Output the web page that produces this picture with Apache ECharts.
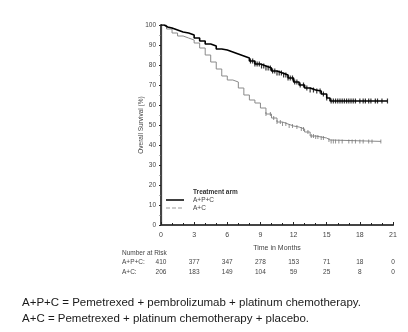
<!DOCTYPE html>
<html>
<head>
<meta charset="utf-8">
<script src="https://cdn.jsdelivr.net/npm/echarts@6/dist/echarts.min.js"></script>
<style>
html,body{margin:0;padding:0;background:#fff;}
#c{width:408px;height:332px;}
</style>
</head>
<body>
<div id="c"></div>
<script>
// ---- Data ----
var xTicks = [0, 3, 6, 9, 12, 15, 18, 21];
var yTicks = [0, 10, 20, 30, 40, 50, 60, 70, 80, 90, 100];

// A+P+C Kaplan-Meier steps: [months, survival %]
var apcTimes = [0, 0.3, 0.6, 1, 1.5, 2, 2.5, 3, 3.5, 4, 4.5, 5, 5.5, 6, 6.5, 7, 7.5, 8, 8.5, 9, 9.5, 10, 10.5, 11, 11.5, 12, 12.5, 13, 13.5, 14, 14.5, 15, 15.3, 20.5];
var apcSurv  = [100, 99, 98.5, 97.5, 96.5, 96, 95, 93.5, 92, 90.5, 89.5, 88, 87.5, 86.5, 85.5, 84.5, 83.5, 82, 80.5, 79.5, 78.5, 77, 76, 75, 73.5, 71.5, 70, 68.5, 67.5, 67, 65.5, 63.5, 62, 62];
var apcCensor = [8.1, 8.3, 8.5, 8.7, 8.9, 9.1, 9.3, 9.5, 9.7, 9.9, 10.1, 10.3, 10.5, 10.7, 10.9, 11.1, 11.3, 11.5, 11.7, 11.9, 12.1, 12.3, 12.6, 12.9, 13.2, 13.5, 13.8, 14.1, 14.4, 14.7, 15.0, 15.4, 15.6, 15.8, 16.0, 16.2, 16.4, 16.6, 16.8, 17.0, 17.2, 17.4, 17.6, 18.0, 18.3, 18.5, 18.8, 19.0, 19.4, 19.6, 20.0, 20.5];

// A+C Kaplan-Meier steps
var acTimes = [0, 0.5, 1, 1.5, 2, 2.5, 3, 3.5, 4, 4.5, 5, 5.5, 6, 6.5, 7, 7.5, 8, 8.5, 9, 9.5, 10, 10.5, 11, 11.5, 12, 12.5, 13, 13.5, 14, 14.5, 15, 15.3, 19.9];
var acSurv  = [100, 98, 96, 94.5, 93.5, 92.5, 91, 88.5, 85, 81.5, 78, 74.5, 72.5, 71.5, 68.5, 65, 62.5, 61, 58.5, 55.5, 53.5, 51.5, 50.5, 49.5, 49, 48, 46.5, 44.5, 44, 43.5, 42.5, 41.8, 41.8];
var acCensor = [9.5, 9.9, 10.2, 10.5, 10.8, 11.0, 11.3, 11.6, 11.9, 12.3, 12.7, 12.9, 13.3, 13.6, 13.8, 14.0, 14.2, 14.5, 14.7, 15.2, 15.4, 15.6, 15.8, 16.1, 16.4, 17.0, 17.3, 17.6, 18.0, 18.3, 18.8, 19.1, 19.9];

var riskAPC = [410, 377, 347, 278, 153, 71, 18, 0];
var riskAC  = [206, 183, 149, 104, 59, 25, 8, 0];

var armNames = ['A+P+C', 'A+C'];
var footnotes = [
  'A+P+C = Pemetrexed + pembrolizumab + platinum chemotherapy.',
  'A+C = Pemetrexed + platinum chemotherapy + placebo.'
];

// ---- Build series ----
function pairs(t, s) { return t.map(function (v, i) { return [v, s[i]]; }); }
function survAt(t, s, x) {
  var v = s[0];
  for (var i = 0; i < t.length; i++) { if (t[i] <= x) v = s[i]; }
  return v;
}
function censorPts(ct, t, s) { return ct.map(function (x) { return [x, survAt(t, s, x)]; }); }

var FONT = 'Liberation Sans';
var TXT = '#444';

var chart = echarts.init(document.getElementById('c'), null, { renderer: 'canvas' });
var option = {
  animation: false,
  backgroundColor: '#fff',
  textStyle: { fontFamily: FONT },
  grid: { left: 161, right: 15, top: 25, bottom: 107 },
  xAxis: [{
    type: 'value', min: 0, max: 21, interval: 3,
    axisLine: { show: true, lineStyle: { color: '#222', width: 1.2 } },
    axisTick: { show: true, inside: true, length: 3, lineStyle: { color: '#222' } },
    minorTick: { show: true, splitNumber: 3, length: 2, lineStyle: { color: '#222' } },
    splitLine: { show: false },
    axisLabel: { fontSize: 7, color: TXT, margin: 7, fontFamily: FONT },
    name: 'Time in Months', nameLocation: 'middle', nameGap: 20,
    nameTextStyle: { fontSize: 7, color: TXT, fontFamily: FONT }
  }, {
    type: 'value', min: 0, max: 21, position: 'top',
    axisLine: { show: true, lineStyle: { color: '#444', width: 2 } },
    axisTick: { show: false }, axisLabel: { show: false }, splitLine: { show: false }
  }],
  yAxis: [{
    type: 'value', min: 0, max: 100, interval: 10,
    axisLine: { show: true, lineStyle: { color: '#222', width: 1.2 } },
    axisTick: { show: true, inside: false, length: 2, lineStyle: { color: '#222' } },
    minorTick: { show: true, splitNumber: 2, length: 1.5, lineStyle: { color: '#666' } },
    splitLine: { show: false },
    axisLabel: { fontSize: 6.5, color: TXT, margin: 5, fontFamily: FONT },
    name: 'Overall Survival (%)', nameLocation: 'middle', nameGap: 16, nameMoveOverlap: false,
    nameTextStyle: { fontSize: 6.5, color: TXT, fontFamily: FONT }
  }, {
    type: 'value', min: 0, max: 100, position: 'right',
    axisLine: { show: true, lineStyle: { color: '#444', width: 2 } },
    axisTick: { show: false }, axisLabel: { show: false }, splitLine: { show: false }
  }],
  series: [{
    name: armNames[0], type: 'line', step: 'end', showSymbol: false,
    data: pairs(apcTimes, apcSurv),
    lineStyle: { color: '#000', width: 1.6 }, z: 3
  }, {
    name: armNames[1], type: 'line', step: 'end', showSymbol: false,
    data: pairs(acTimes, acSurv),
    lineStyle: { color: '#8a8a8a', width: 1 }, z: 2
  }, {
    type: 'scatter', data: censorPts(apcCensor, apcTimes, apcSurv),
    symbol: 'rect', symbolSize: [1.2, 5], itemStyle: { color: '#000' }, z: 4
  }, {
    type: 'scatter', data: censorPts(acCensor, acTimes, acSurv),
    symbol: 'rect', symbolSize: [1, 4], itemStyle: { color: '#777' }, z: 4
  }]
};
chart.setOption(option);

// ---- Legend, number-at-risk table and footnotes as graphics ----
var g = [];
var ts = { fontFamily: FONT, fontSize: 6.5, fill: TXT };
g.push({ type: 'text', left: 193, top: 189, style: Object.assign({}, ts, { text: 'Treatment arm', fontWeight: 'bold', fill: '#333' }) });
g.push({ type: 'line', shape: { x1: 166, y1: 200, x2: 184, y2: 200 }, style: { stroke: '#111', lineWidth: 1.6 } });
g.push({ type: 'text', left: 193, top: 196.5, style: Object.assign({}, ts, { text: armNames[0] }) });
g.push({ type: 'line', shape: { x1: 166, y1: 208, x2: 184, y2: 208 }, style: { stroke: '#999', lineWidth: 1, lineDash: [4, 2] } });
g.push({ type: 'text', left: 193, top: 204.5, style: Object.assign({}, ts, { text: armNames[1] }) });

g.push({ type: 'text', left: 122, top: 250, style: Object.assign({}, ts, { text: 'Number at Risk' }) });
g.push({ type: 'text', left: 122, top: 258.5, style: Object.assign({}, ts, { text: armNames[0] + ':' }) });
g.push({ type: 'text', left: 122, top: 268.5, style: Object.assign({}, ts, { text: armNames[1] + ':' }) });
xTicks.forEach(function (t, i) {
  var px = chart.convertToPixel({ xAxisIndex: 0 }, t);
  g.push({ type: 'text', x: px, y: 262, style: Object.assign({}, ts, { text: String(riskAPC[i]), align: 'center', verticalAlign: 'middle' }) });
  g.push({ type: 'text', x: px, y: 272, style: Object.assign({}, ts, { text: String(riskAC[i]), align: 'center', verticalAlign: 'middle' }) });
});

footnotes.forEach(function (f, i) {
  g.push({ type: 'text', x: 22, y: 303 + i * 16, style: { text: f, fontFamily: FONT, fontSize: 11.5, fill: '#1a1a1a', verticalAlign: 'middle' } });
});
chart.setOption({ graphic: g });
</script>
</body>
</html>
